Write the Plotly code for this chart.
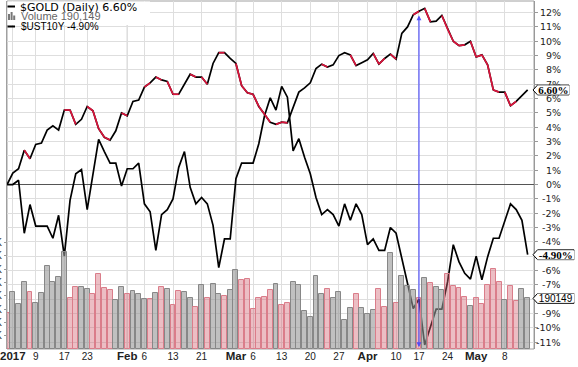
import pandas as pd
import plotly.graph_objects as go

# ---------------- data ----------------
HOLIDAYS = ["2017-01-02", "2017-01-16", "2017-02-20", "2017-04-14"]
DATES = [d.strftime("%Y-%m-%d") for d in pd.bdate_range("2016-12-30", "2017-05-12")
         if d.strftime("%Y-%m-%d") not in HOLIDAYS]

GOLD_PCT = [0.0,
            0.8, 1.1, 2.4, 1.8, 2.8, 2.9, 3.8, 4.1, 3.8, 5.2,
            5.2, 4.2, 4.55, 5.45, 5.15, 3.9, 3.3, 3.1, 3.75, 5.0,
            4.8, 5.8, 5.9, 6.8, 7.1, 7.5, 7.3, 7.2, 6.3, 6.3,
            7.0, 7.7, 7.5, 7.5, 7.0, 8.45, 9.2, 9.2, 8.8, 8.45,
            6.9, 6.4, 6.3, 5.45, 4.9, 4.35, 4.2, 4.35, 4.3, 5.4,
            6.45, 6.75, 7.1, 8.1, 8.4, 8.2, 8.35, 9.0, 9.2, 9.05,
            8.3, 8.5, 8.7, 9.15, 8.4, 8.8, 9.1, 8.75, 10.55, 11.0,
            11.85, 12.1, 12.3, 11.35, 11.4, 11.8, 10.85, 10.0, 9.7, 9.75,
            10.0, 8.9, 9.05, 8.35, 6.6, 6.45, 6.45, 5.5, 5.8, 6.2,
            6.6]

UST10Y_PCT = [0.0,
              0.0, 0.3, -3.4, -1.4, -2.9, -2.9, -2.9, -3.75, -2.15, -5.0,
              -1.1, 0.75, 1.05, -1.75, 0.75, 3.15, 2.3, 1.5, 1.5, -0.1,
              1.1, 1.1, 1.5, -1.35, -1.9, -4.6, -2.1, -1.75, -1.0, 1.2,
              2.3, -0.2, -1.35, -0.9, -1.35, -2.85, -5.8, -3.8, -3.8, 0.4,
              1.5, 1.5, 1.5, 2.85, 4.8, 6.05, 5.2, 6.85, 6.1, 2.35,
              3.2, 1.9, 0.75, -0.9, -2.1, -1.75, -2.1, -2.9, -1.35, -2.5,
              -1.35, -2.1, -4.2, -3.8, -4.6, -4.6, -3.0, -3.4, -5.2, -6.9,
              -8.65, -8.0, -11.2, -9.95, -8.7, -8.7, -6.8, -4.2, -5.4, -6.2,
              -6.6, -5.0, -6.65, -5.05, -3.75, -3.75, -2.5, -1.35, -1.75, -2.5,
              -4.9]

VOLUME_K = [134,
            213, 168, 253, 213, 172, 209, 312, 253, 270, 364,
            191, 234, 232, 224, 206, 281, 228, 221, 183, 234,
            206, 217, 206, 187, 187, 209, 232, 224, 164, 217,
            213, 191, 157, 241, 191, 244, 207, 199, 221, 297,
            259, 263, 150, 191, 194, 222, 244, 164, 173, 251,
            239, 143, 120, 274, 207, 224, 191, 213, 109, 153,
            207, 153, 130, 147, 224, 157, 360, 173, 274, 237,
            222, 190, 266, 247, 232, 220, 282, 235, 228, 197,
            160, 191, 169, 239, 300, 250, 183, 235, 182, 224,
            190.149]

DOWN_DAY = [1,
            0, 0, 0, 1, 0, 0, 0, 0, 0, 0,
            1, 1, 0, 0, 1, 1, 1, 1, 0, 0,
            1, 0, 0, 0, 1, 0, 1, 0, 1, 1,
            0, 0, 1, 0, 1, 0, 0, 1, 0, 0,
            1, 1, 1, 1, 1, 1, 0, 1, 1, 0,
            0, 0, 0, 0, 0, 1, 0, 0, 0, 0,
            1, 0, 0, 0, 1, 1, 0, 1, 0, 0,
            0, 1, 0, 1, 0, 0, 1, 1, 1, 1,
            0, 1, 1, 1, 1, 1, 0, 1, 1, 0,
            0]

TICK_DATES = ["2017-01-03", "2017-01-09", "2017-01-17", "2017-01-23", "2017-02-01",
              "2017-02-06", "2017-02-13", "2017-02-21", "2017-03-01", "2017-03-06",
              "2017-03-13", "2017-03-20", "2017-03-27", "2017-04-03", "2017-04-10",
              "2017-04-17", "2017-04-24", "2017-05-01", "2017-05-08"]
TICK_TEXT = ["2017", "9", "17", "23", "Feb", "6", "13", "21", "Mar", "6",
             "13", "20", "27", "Apr", "10", "17", "24", "May", "8"]
BOLD_TICKS = ["2017", "Feb", "Mar", "Apr", "May"]
MONTH_LINES = ["2017-02-01", "2017-03-01", "2017-04-03", "2017-05-01"]
PCT_TICKS = list(range(-11, 13))
VOL_TICKS = [50, 100, 150, 200, 250, 300, 350, 400]
ARROW_DATE = "2017-04-17"
ARROW_TOP, ARROW_BOTTOM = 11.9, -11.35

# ---------------- geometry / style ----------------
W, H = 578, 367
ML, MR, MT, MB = 7, 44, 1, 18
PW, PH = W - ML - MR, H - MT - MB
Y_RANGE = [-11.48, 12.81]
VOL_RANGE = [0, 1308]
GRID = "#dedede"
RED = "#dc143c"


def px_x(px):
    return (px - ML) / PW


def px_y(py):
    return (H - MB - py) / PH


def pct_to_px(v):
    return MT + (Y_RANGE[1] - v) / (Y_RANGE[1] - Y_RANGE[0]) * PH


def vol_to_px(v):
    return MT + (VOL_RANGE[1] - v) / (VOL_RANGE[1] - VOL_RANGE[0]) * PH


fig = go.Figure()

bar_fill = ["rgba(210,100,115,0.42)" if d else "rgba(150,150,150,0.6)" for d in DOWN_DAY]
bar_line = ["rgb(218,125,138)" if d else "rgb(135,135,135)" for d in DOWN_DAY]
fig.add_trace(go.Bar(x=DATES, y=VOLUME_K, yaxis="y2", width=0.86,
                     marker=dict(color=bar_fill, line=dict(color=bar_line, width=1)),
                     hoverinfo="skip"))

fig.add_trace(go.Scatter(x=DATES, y=UST10Y_PCT, mode="lines",
                         line=dict(color="black", width=1.7)))
fig.add_trace(go.Scatter(x=DATES, y=GOLD_PCT, mode="lines",
                         line=dict(color="black", width=1.7)))
rx, ry = [], []
for k in range(1, len(DATES)):
    if DOWN_DAY[k]:
        rx += [DATES[k - 1], DATES[k], None]
        ry += [GOLD_PCT[k - 1], GOLD_PCT[k], None]
fig.add_trace(go.Scatter(x=rx, y=ry, mode="lines", line=dict(color=RED, width=1.7)))

shapes = []
# month separators
for d in MONTH_LINES:
    shapes.append(dict(type="line", xref="x", yref="paper", x0=d, x1=d, y0=0, y1=1,
                       line=dict(color="#b8b8b8", width=1), layer="between"))
# frame
shapes.append(dict(type="rect", xref="paper", yref="paper", x0=0, x1=1, y0=0, y1=1,
                   line=dict(color="#a0a0a0", width=1), layer="between"))
# legend background
shapes.append(dict(type="rect", xref="paper", yref="paper", x0=px_x(7.5), x1=px_x(150),
                   y0=px_y(25), y1=px_y(1.5), line=dict(width=0), fillcolor="white",
                   layer="above"))
# legend glyphs
for py in (6.5, 26.5):
    shapes.append(dict(type="line", xref="paper", yref="paper", x0=px_x(7.5), x1=px_x(15),
                       y0=px_y(py), y1=px_y(py), line=dict(color="black", width=2),
                       layer="above"))
for (a, b, top) in ((8, 10, 14), (10.6, 12.6, 12), (13.2, 15.2, 15.5)):
    shapes.append(dict(type="rect", xref="paper", yref="paper", x0=px_x(a), x1=px_x(b),
                       y0=px_y(20), y1=px_y(top), line=dict(width=0),
                       fillcolor="#777", layer="above"))

# labels hidden behind the last-value boxes in the reference
box_px = [pct_to_px(GOLD_PCT[-1]), pct_to_px(UST10Y_PCT[-1]), vol_to_px(VOLUME_K[-1])]

annotations = []
# right-aligned percent labels
for v in PCT_TICKS:
    if any(abs(pct_to_px(v) - b) < 4 for b in box_px):
        continue
    annotations.append(dict(x=1, xref="paper", y=v, yref="y", xshift=29, xanchor="right",
                            yanchor="middle", showarrow=False, text=f"{v}%",
                            font=dict(family="DejaVu Sans", size=9.5, color="#222")))


def value_box(val, yref, units_per_px, text, font, right_px):
    half = 4.9 * units_per_px
    tip, left = px_x(533), px_x(537.5)
    right = px_x(right_px)
    path = (f"M {tip},{val} L {left},{val + half} L {right},{val + half} "
            f"L {right},{val - half} L {left},{val - half} Z")
    shapes.append(dict(type="path", xref="paper", yref=yref, path=path,
                       line=dict(color="black", width=1), fillcolor="white", layer="above"))
    annotations.append(dict(x=(left + right) / 2, xref="paper", y=val, yref=yref,
                            xanchor="center", yanchor="middle", showarrow=False,
                            text=text, font=font, bgcolor="white", borderpad=0,
                            width=right_px - 538.5, height=8))


pct_upp = (Y_RANGE[1] - Y_RANGE[0]) / PH
vol_upp = (VOL_RANGE[1] - VOL_RANGE[0]) / PH
value_box(GOLD_PCT[-1], "y", pct_upp, f"<b>{GOLD_PCT[-1]:.2f}%</b>",
          dict(family="Liberation Serif", size=11, color="black"), 569)
value_box(UST10Y_PCT[-1], "y", pct_upp, f"<b>{UST10Y_PCT[-1]:.2f}%</b>",
          dict(family="Liberation Serif", size=11, color="black"), 574)
value_box(VOLUME_K[-1], "y2", vol_upp, f"{round(VOLUME_K[-1] * 1000)}",
          dict(family="Liberation Sans", size=10, color="black"), 574)

# legend texts
annotations += [
    dict(x=px_x(18), y=px_y(7), xref="paper", yref="paper", xanchor="left", yanchor="middle",
         showarrow=False, text=f"$GOLD (Daily) {GOLD_PCT[-1]:.2f}%",
         font=dict(family="DejaVu Sans", size=11, color="black")),
    dict(x=px_x(19), y=px_y(16.5), xref="paper", yref="paper", xanchor="left",
         yanchor="middle", showarrow=False, text=f"Volume {round(VOLUME_K[-1] * 1000):,}",
         font=dict(family="Liberation Sans", size=11, color="#666")),
    dict(x=px_x(18.5), y=px_y(27), xref="paper", yref="paper", xanchor="left",
         yanchor="middle", showarrow=False, text=f"$UST10Y {UST10Y_PCT[-1]:.2f}%",
         font=dict(family="Liberation Sans", size=10, color="black")),
]
# blue double arrow
annotations.append(dict(x=ARROW_DATE, y=ARROW_BOTTOM, xref="x", yref="y",
                        ax=ARROW_DATE, ay=ARROW_TOP, axref="x", ayref="y", text="",
                        showarrow=True, arrowside="end+start", arrowhead=2,
                        startarrowhead=2, arrowsize=0.8, startarrowsize=0.8,
                        arrowwidth=1.2, arrowcolor="rgba(60,60,255,0.85)",
                        standoff=0, startstandoff=0))

tick_text = [f'<span style="font-size:11.5px"><b>{t}</b></span>' if t in BOLD_TICKS else t
             for t in TICK_TEXT]

fig.update_layout(
    width=W, height=H, margin=dict(l=ML, r=MR, t=MT, b=MB),
    paper_bgcolor="white", plot_bgcolor="white", showlegend=False,
    shapes=shapes, annotations=annotations, bargap=0,
    xaxis=dict(type="category", categoryorder="array", categoryarray=DATES,
               range=[-0.02, 92.11], tickmode="array", tickvals=TICK_DATES,
               ticktext=tick_text, showgrid=True, gridcolor=GRID, gridwidth=1,
               ticks="", showline=False, zeroline=False, automargin=False,
               tickfont=dict(family="Liberation Sans", size=10, color="#222")),
    yaxis=dict(side="right", range=Y_RANGE, tickmode="array", tickvals=PCT_TICKS,
               showticklabels=False, ticks="outside", ticklen=3, tickcolor="#999",
               showgrid=True, gridcolor=GRID, zeroline=True, zerolinecolor="#555",
               zerolinewidth=1, showline=True, linecolor="#999", automargin=False),
    yaxis2=dict(overlaying="y", side="left", range=VOL_RANGE, tickmode="array",
                tickvals=VOL_TICKS, ticktext=[f"{v}K" for v in VOL_TICKS],
                showgrid=False, zeroline=False, ticks="outside", ticklen=2,
                tickcolor="#999", showline=True, linecolor="#a0a0a0", automargin=False,
                tickfont=dict(family="Liberation Sans", size=10, color="#333")),
)

fig.write_html("out.html", config={"displayModeBar": False},
               post_script="document.body.style.margin='0';"
                           "document.body.style.overflow='hidden';")
